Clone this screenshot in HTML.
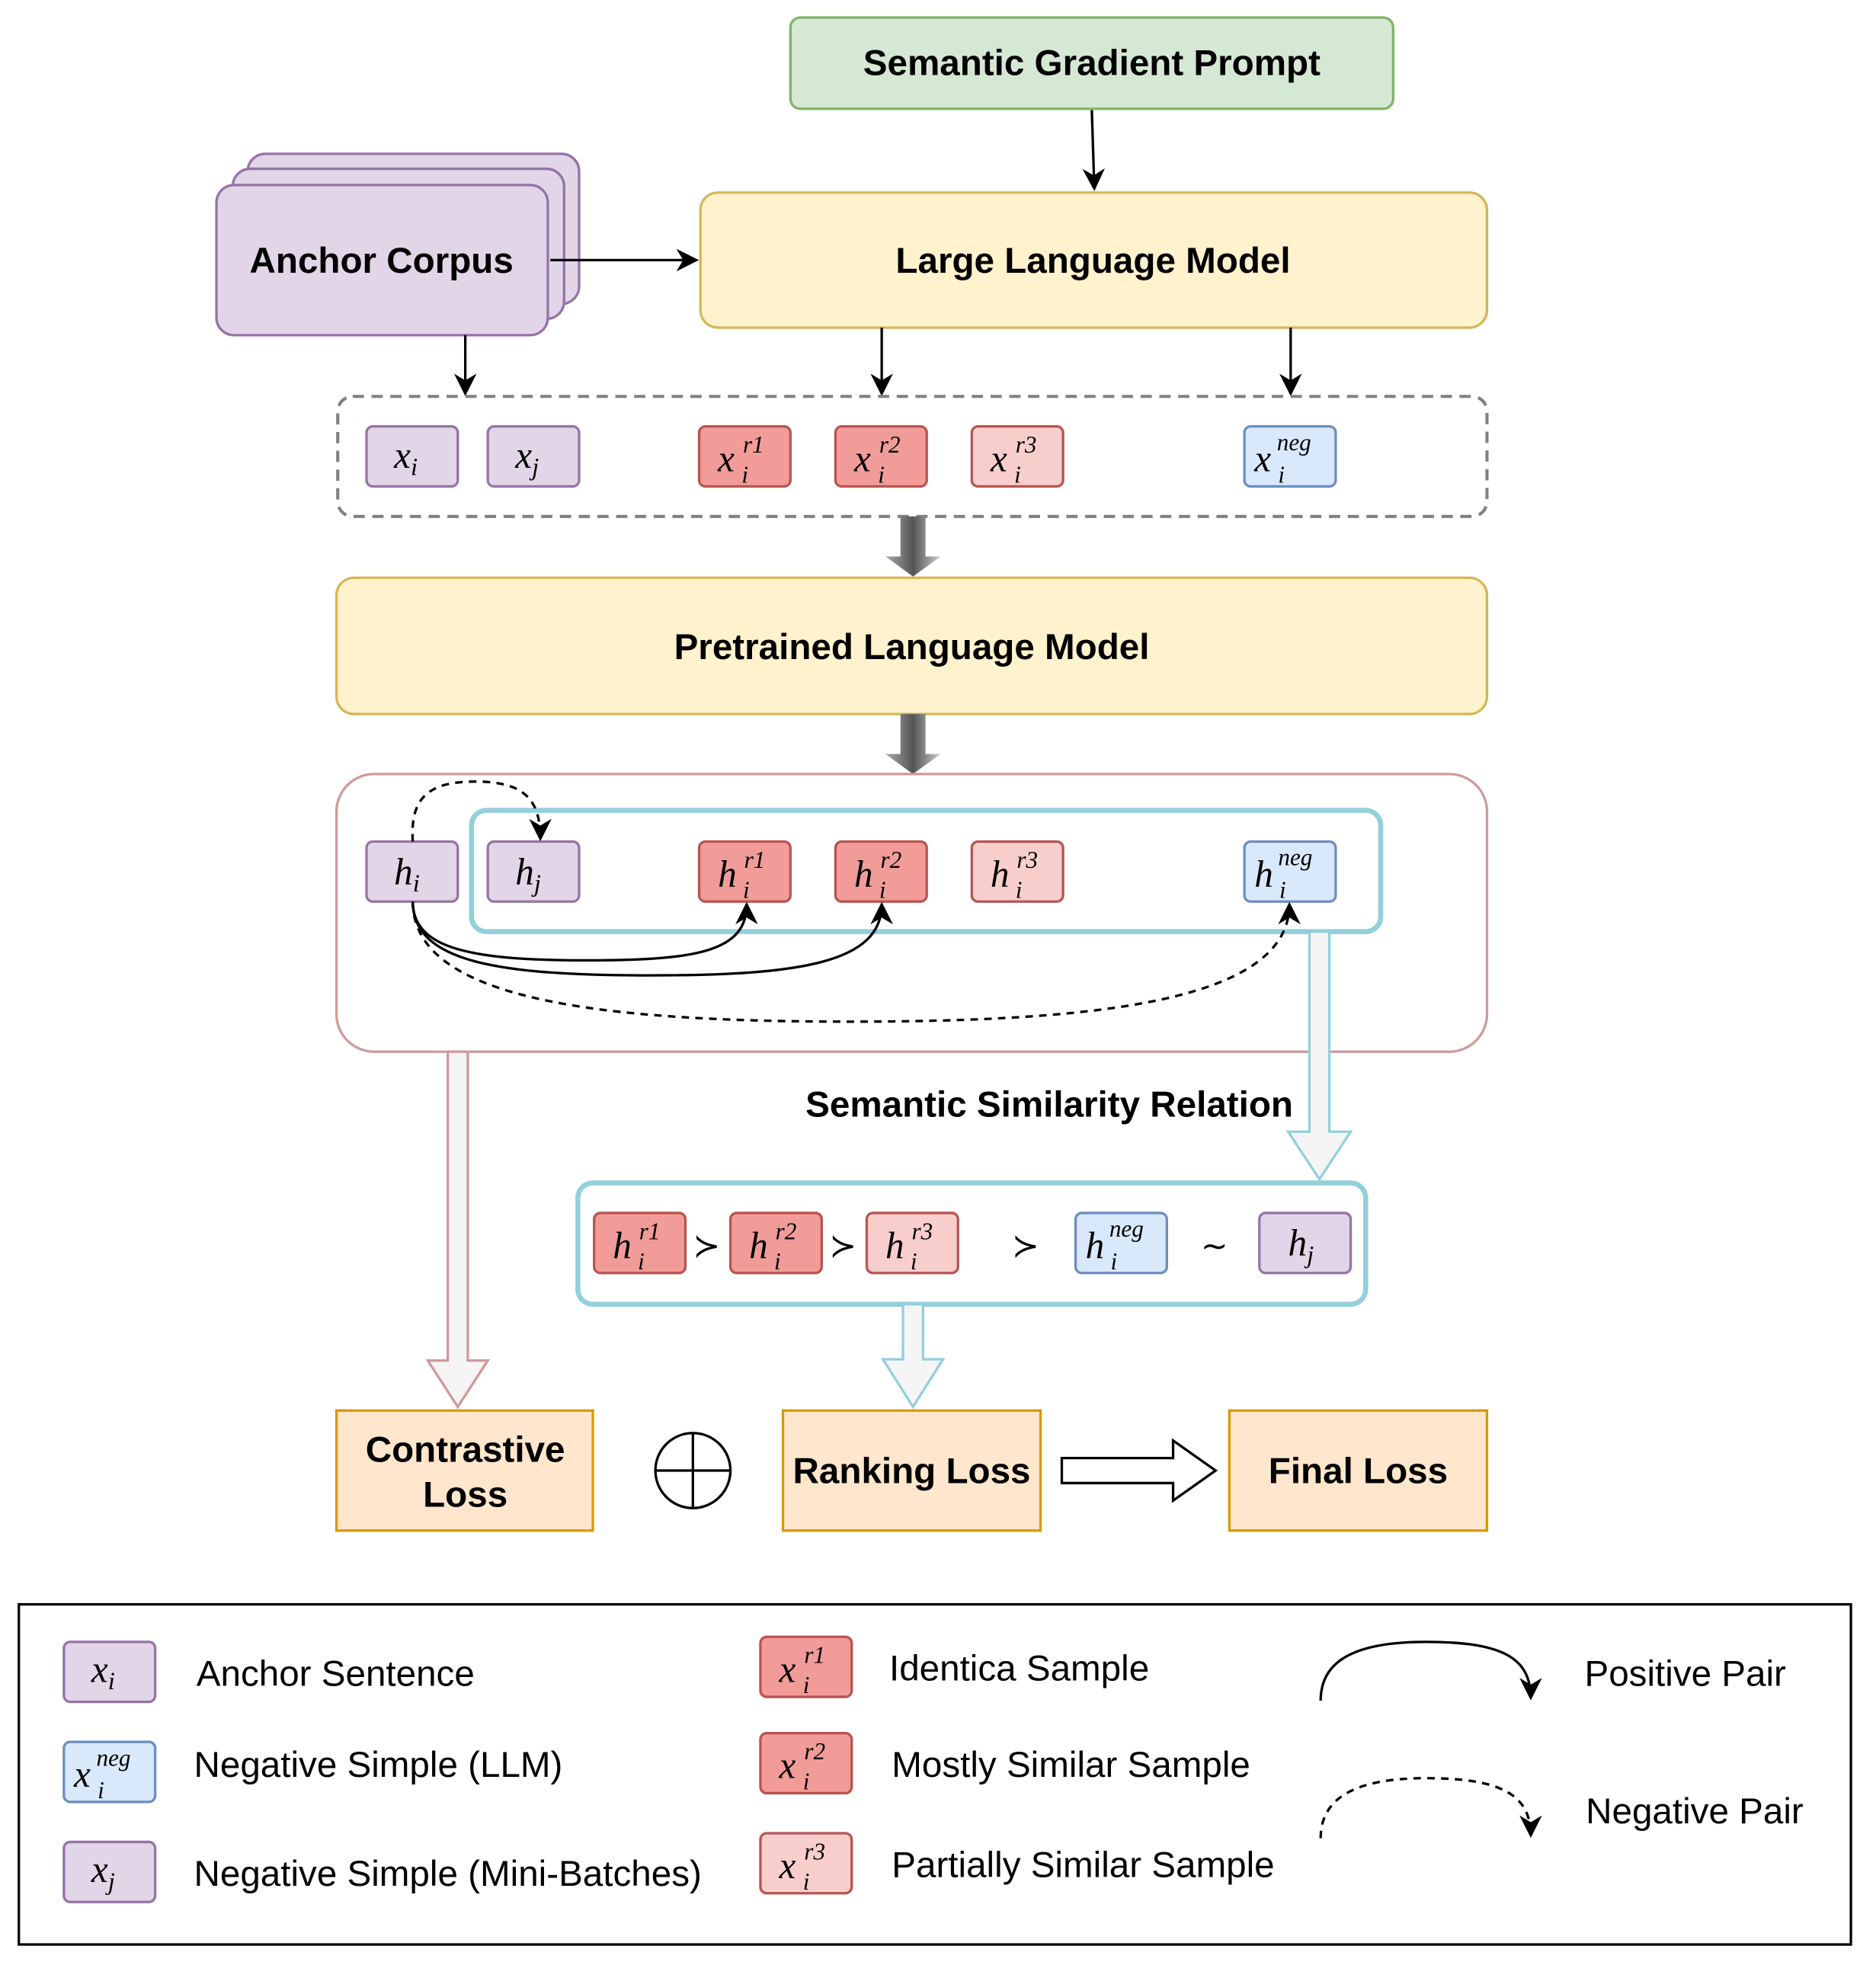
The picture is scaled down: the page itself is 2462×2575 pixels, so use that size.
<!DOCTYPE html>
<html><head><meta charset="utf-8"><style>
html,body{margin:0;padding:0;background:#fff}
svg{display:block}
.b{font-family:"Liberation Sans",sans-serif;font-weight:bold;font-size:29px;fill:#000}
.l{font-family:"Liberation Sans",sans-serif;font-size:29px;fill:#000}
.m{font-family:"Liberation Serif",serif;font-style:italic;fill:#000}
</style></head><body>
<svg width="2462" height="2575" viewBox="0 0 1500 1569" xmlns="http://www.w3.org/2000/svg">
<defs>
<marker id="ar2" viewBox="0 0 10 10" refX="9" refY="5" markerWidth="18" markerHeight="18" orient="auto" markerUnits="userSpaceOnUse"><path d="M0,0 L10,5 L0,10 L3,5 z" fill="#000"/></marker>
<linearGradient id="g" x1="0" x2="1"><stop offset="0" stop-color="#aaa"/><stop offset="0.5" stop-color="#555"/><stop offset="1" stop-color="#ccc"/></linearGradient>
</defs>
<rect width="1500" height="1569" fill="#fff"/>
<rect x="632" y="14" width="482" height="73" rx="8" fill="#d5e8d4" stroke="#82b366" stroke-width="2"/>
<text class="b" x="873" y="60" text-anchor="middle">Semantic Gradient Prompt</text>
<line x1="873" y1="88" x2="875" y2="151" stroke="#000" stroke-width="2" marker-end="url(#ar2)"/>
<rect x="560" y="154" width="629" height="108" rx="14" fill="#fff2cc" stroke="#d6b656" stroke-width="2"/>
<text class="b" x="874" y="218" text-anchor="middle">Large Language Model</text>
<rect x="198" y="123" width="265" height="120" rx="14" fill="#e1d5e7" stroke="#9673a6" stroke-width="2"/>
<rect x="186" y="135" width="265" height="120" rx="14" fill="#e1d5e7" stroke="#9673a6" stroke-width="2"/>
<rect x="173" y="148" width="265" height="120" rx="14" fill="#e1d5e7" stroke="#9673a6" stroke-width="2"/>
<text class="b" x="305" y="218" text-anchor="middle">Anchor Corpus</text>
<line x1="440" y1="208" x2="557" y2="208" stroke="#000" stroke-width="2" marker-end="url(#ar2)"/>
<line x1="372" y1="268" x2="372" y2="315" stroke="#000" stroke-width="2" marker-end="url(#ar2)"/>
<line x1="705" y1="262" x2="705" y2="315" stroke="#000" stroke-width="2" marker-end="url(#ar2)"/>
<line x1="1032" y1="262" x2="1032" y2="315" stroke="#000" stroke-width="2" marker-end="url(#ar2)"/>
<rect x="270" y="317" width="919" height="96" rx="12" fill="none" stroke="#808080" stroke-width="2.5" stroke-dasharray="9,6"/>

<rect x="293" y="341" width="73" height="48" rx="5" fill="#e1d5e7" stroke="#9673a6" stroke-width="2"/>
<text class="m" x="315" y="374" font-size="30">x<tspan font-size="20" dy="6">i</tspan></text>
<rect x="390" y="341" width="73" height="48" rx="5" fill="#e1d5e7" stroke="#9673a6" stroke-width="2"/>
<text class="m" x="412" y="374" font-size="30">x<tspan font-size="20" dy="6">j</tspan></text>
<rect x="559" y="341" width="73" height="48" rx="5" fill="#f19c99" stroke="#b85450" stroke-width="2"/>
<text class="m" x="574" y="377" font-size="30">x</text><text class="m" x="593" y="386" font-size="19">i</text><text class="m" x="594" y="362" font-size="19">r1</text>
<rect x="668" y="341" width="73" height="48" rx="5" fill="#f19c99" stroke="#b85450" stroke-width="2"/>
<text class="m" x="683" y="377" font-size="30">x</text><text class="m" x="702" y="386" font-size="19">i</text><text class="m" x="703" y="362" font-size="19">r2</text>
<rect x="777" y="341" width="73" height="48" rx="5" fill="#f8cecc" stroke="#b85450" stroke-width="2"/>
<text class="m" x="792" y="377" font-size="30">x</text><text class="m" x="811" y="386" font-size="19">i</text><text class="m" x="812" y="362" font-size="19">r3</text>
<rect x="995" y="341" width="73" height="48" rx="5" fill="#dae8fc" stroke="#6c8ebf" stroke-width="2"/>
<text class="m" x="1003" y="377" font-size="30">x</text><text class="m" x="1022" y="386" font-size="19">i</text><text class="m" x="1021" y="360" font-size="19">neg</text>

<path d="M720,413 H740 V445 H752 L730,461 L708,445 H720 Z" fill="url(#g)"/>
<rect x="269" y="462" width="920" height="109" rx="14" fill="#fff2cc" stroke="#d6b656" stroke-width="2"/>
<text class="b" x="729" y="527" text-anchor="middle">Pretrained Language Model</text>
<path d="M720,571 H740 V603 H752 L730,619 L708,603 H720 Z" fill="url(#g)"/>

<rect x="269" y="619" width="920" height="222" rx="30" fill="none" stroke="#d09a9a" stroke-width="2"/>
<rect x="377" y="648" width="727" height="97" rx="12" fill="none" stroke="#92d0db" stroke-width="4"/>

<rect x="293" y="673" width="73" height="48" rx="5" fill="#e1d5e7" stroke="#9673a6" stroke-width="2"/>
<text class="m" x="315" y="707" font-size="30">h<tspan font-size="20" dy="6">i</tspan></text>
<rect x="390" y="673" width="73" height="48" rx="5" fill="#e1d5e7" stroke="#9673a6" stroke-width="2"/>
<text class="m" x="412" y="707" font-size="30">h<tspan font-size="20" dy="6">j</tspan></text>
<rect x="559" y="673" width="73" height="48" rx="5" fill="#f19c99" stroke="#b85450" stroke-width="2"/>
<text class="m" x="574" y="709" font-size="30">h</text><text class="m" x="594" y="718" font-size="19">i</text><text class="m" x="595" y="694" font-size="19">r1</text>
<rect x="668" y="673" width="73" height="48" rx="5" fill="#f19c99" stroke="#b85450" stroke-width="2"/>
<text class="m" x="683" y="709" font-size="30">h</text><text class="m" x="703" y="718" font-size="19">i</text><text class="m" x="704" y="694" font-size="19">r2</text>
<rect x="777" y="673" width="73" height="48" rx="5" fill="#f8cecc" stroke="#b85450" stroke-width="2"/>
<text class="m" x="792" y="709" font-size="30">h</text><text class="m" x="812" y="718" font-size="19">i</text><text class="m" x="813" y="694" font-size="19">r3</text>
<rect x="995" y="673" width="73" height="48" rx="5" fill="#dae8fc" stroke="#6c8ebf" stroke-width="2"/>
<text class="m" x="1003" y="709" font-size="30">h</text><text class="m" x="1023" y="718" font-size="19">i</text><text class="m" x="1022" y="692" font-size="19">neg</text>

<path d="M330,673 C328,640 340,625 380,625 C420,625 432,640 432,671" fill="none" stroke="#000" stroke-width="2" stroke-dasharray="6,5" marker-end="url(#ar2)"/>
<path d="M330,721 C330,760 380,768 470,768 C560,768 597,760 597,723" fill="none" stroke="#000" stroke-width="2" marker-end="url(#ar2)"/>
<path d="M330,721 C330,770 400,780 520,780 C640,780 705,770 705,723" fill="none" stroke="#000" stroke-width="2" marker-end="url(#ar2)"/>
<path d="M330,721 C330,800 480,817 680,817 C880,817 1031,800 1031,723" fill="none" stroke="#000" stroke-width="2" stroke-dasharray="6,5" marker-end="url(#ar2)"/>

<path d="M1047,745 H1063 V905 H1080 L1055,943 L1030,905 H1047 Z" fill="#f5f5f5" stroke="#92d0db" stroke-width="2"/>
<path d="M358,841 H374 V1088 H390 L366,1125 L342,1088 H358 Z" fill="#f5f5f5" stroke="#d09a9a" stroke-width="2"/>
<text class="b" x="839" y="893" text-anchor="middle">Semantic Similarity Relation</text>

<rect x="462" y="946" width="630" height="97" rx="12" fill="none" stroke="#92d0db" stroke-width="4"/>
<rect x="475" y="970" width="73" height="48" rx="5" fill="#f19c99" stroke="#b85450" stroke-width="2"/>
<text class="m" x="490" y="1006" font-size="30">h</text><text class="m" x="510" y="1015" font-size="19">i</text><text class="m" x="511" y="991" font-size="19">r1</text>
<rect x="584" y="970" width="73" height="48" rx="5" fill="#f19c99" stroke="#b85450" stroke-width="2"/>
<text class="m" x="599" y="1006" font-size="30">h</text><text class="m" x="619" y="1015" font-size="19">i</text><text class="m" x="620" y="991" font-size="19">r2</text>
<rect x="693" y="970" width="73" height="48" rx="5" fill="#f8cecc" stroke="#b85450" stroke-width="2"/>
<text class="m" x="708" y="1006" font-size="30">h</text><text class="m" x="728" y="1015" font-size="19">i</text><text class="m" x="729" y="991" font-size="19">r3</text>
<rect x="860" y="970" width="73" height="48" rx="5" fill="#dae8fc" stroke="#6c8ebf" stroke-width="2"/>
<text class="m" x="868" y="1006" font-size="30">h</text><text class="m" x="888" y="1015" font-size="19">i</text><text class="m" x="887" y="989" font-size="19">neg</text>
<rect x="1007" y="970" width="73" height="48" rx="5" fill="#e1d5e7" stroke="#9673a6" stroke-width="2"/>
<text class="m" x="1030" y="1004" font-size="30">h<tspan font-size="20" dy="6">j</tspan></text>
<g font-family="DejaVu Sans,sans-serif" font-size="26" text-anchor="middle">
<text x="565" y="1005">≻</text><text x="674" y="1005">≻</text><text x="820" y="1005">≻</text><text x="971" y="1005">∼</text>
</g>
<path d="M722,1043 H738 V1087 H754 L730,1125 L706,1087 H722 Z" fill="#f5f5f5" stroke="#92d0db" stroke-width="2"/>

<rect x="269" y="1128" width="205" height="96" fill="#ffe6cc" stroke="#d79b00" stroke-width="2"/>
<text class="b" x="372" y="1169" text-anchor="middle">Contrastive</text>
<text class="b" x="372" y="1205" text-anchor="middle">Loss</text>
<circle cx="554" cy="1176" r="30" fill="none" stroke="#000" stroke-width="2"/>
<line x1="524" y1="1176" x2="584" y2="1176" stroke="#000" stroke-width="2"/>
<line x1="554" y1="1146" x2="554" y2="1206" stroke="#000" stroke-width="2"/>
<rect x="626" y="1128" width="206" height="96" fill="#ffe6cc" stroke="#d79b00" stroke-width="2"/>
<text class="b" x="729" y="1186" text-anchor="middle">Ranking Loss</text>
<path d="M849,1166 H938 V1152 L972,1176 L938,1200 V1186 H849 Z" fill="#fff" stroke="#000" stroke-width="2"/>
<rect x="983" y="1128" width="206" height="96" fill="#ffe6cc" stroke="#d79b00" stroke-width="2"/>
<text class="b" x="1086" y="1186" text-anchor="middle">Final Loss</text>

<rect x="15" y="1283" width="1465" height="272" fill="#fff" stroke="#000" stroke-width="2"/>
<rect x="51" y="1313" width="73" height="48" rx="5" fill="#e1d5e7" stroke="#9673a6" stroke-width="2"/>
<text class="m" x="73" y="1345" font-size="30">x<tspan font-size="20" dy="6">i</tspan></text>
<text class="l" x="157" y="1348">Anchor Sentence</text>
<rect x="51" y="1393" width="73" height="48" rx="5" fill="#dae8fc" stroke="#6c8ebf" stroke-width="2"/>
<text class="m" x="59" y="1429" font-size="30">x</text><text class="m" x="78" y="1438" font-size="19">i</text><text class="m" x="77" y="1412" font-size="19">neg</text>
<text class="l" x="155" y="1421">Negative Simple (LLM)</text>
<rect x="51" y="1473" width="73" height="48" rx="5" fill="#e1d5e7" stroke="#9673a6" stroke-width="2"/>
<text class="m" x="73" y="1505" font-size="30">x<tspan font-size="20" dy="6">j</tspan></text>
<text class="l" x="155" y="1508">Negative Simple (Mini-Batches)</text>

<rect x="608" y="1309" width="73" height="48" rx="5" fill="#f19c99" stroke="#b85450" stroke-width="2"/>
<text class="m" x="623" y="1345" font-size="30">x</text><text class="m" x="642" y="1354" font-size="19">i</text><text class="m" x="643" y="1330" font-size="19">r1</text>
<text class="l" x="711" y="1344">Identica Sample</text>
<rect x="608" y="1386" width="73" height="48" rx="5" fill="#f19c99" stroke="#b85450" stroke-width="2"/>
<text class="m" x="623" y="1422" font-size="30">x</text><text class="m" x="642" y="1431" font-size="19">i</text><text class="m" x="643" y="1407" font-size="19">r2</text>
<text class="l" x="713" y="1421">Mostly Similar Sample</text>
<rect x="608" y="1466" width="73" height="48" rx="5" fill="#f8cecc" stroke="#b85450" stroke-width="2"/>
<text class="m" x="623" y="1502" font-size="30">x</text><text class="m" x="642" y="1511" font-size="19">i</text><text class="m" x="643" y="1487" font-size="19">r3</text>
<text class="l" x="713" y="1501">Partially Similar Sample</text>

<path d="M1056,1360 C1056,1330 1080,1313 1140,1313 C1200,1313 1224,1325 1224,1358" fill="none" stroke="#000" stroke-width="2" marker-end="url(#ar2)"/>
<text class="l" x="1267" y="1348">Positive Pair</text>
<path d="M1056,1470 C1056,1440 1080,1422 1140,1422 C1200,1422 1224,1435 1224,1468" fill="none" stroke="#000" stroke-width="2" stroke-dasharray="6,5" marker-end="url(#ar2)"/>
<text class="l" x="1268" y="1458">Negative Pair</text>
</svg>
</body></html>
